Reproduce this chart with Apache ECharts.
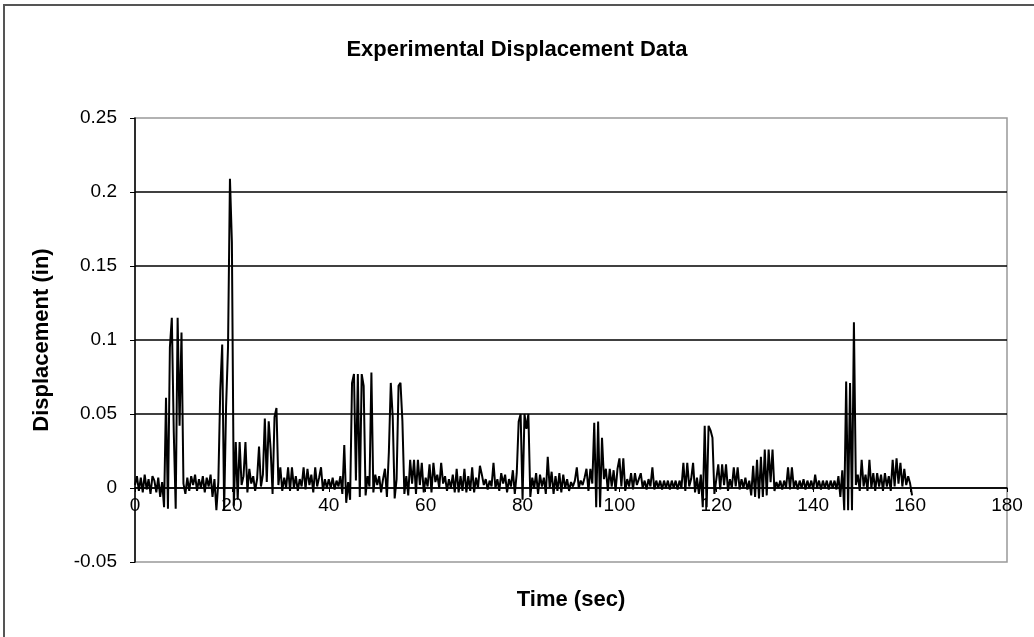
<!DOCTYPE html>
<html>
<head>
<meta charset="utf-8">
<script src="https://cdn.jsdelivr.net/npm/echarts@6/dist/echarts.min.js"></script>
<style>
html,body{margin:0;padding:0;background:#fff;}
#chart{width:1034px;height:637px;}
</style>
</head>
<body>
<div id="chart"></div>
<script>
// ---- data ----
const chartTitle = 'Experimental Displacement Data';
const xAxisTitle = 'Time (sec)';
const yAxisTitle = 'Displacement (in)';
const timeTicks = [0, 20, 40, 60, 80, 100, 120, 140, 160, 180];
const displacementTicks = [-0.05, 0, 0.05, 0.1, 0.15, 0.2, 0.25];
const sampleInterval = 0.4; // seconds between recorded samples
// displacement (in), one value every sampleInterval seconds starting at t = 0
const displacement = [
  0.002, 0.008, -0.002, 0.007, -0.003, 0.009, -0.001, 0.006, -0.004, 0.008,
  0.005, -0.003, 0.007, -0.006, 0.004, -0.013, 0.061, -0.014, 0.095, 0.115,
  0.038, -0.014, 0.115, 0.042, 0.105, 0.003, -0.004, 0.007, -0.002, 0.008,
  0.002, 0.009, -0.002, 0.006, 0.000, 0.008, -0.003, 0.007, 0.001, 0.009,
  -0.006, 0.006, -0.015, 0.004, 0.066, 0.097, -0.015, 0.055, 0.095, 0.209,
  0.166, -0.012, 0.031, -0.008, 0.031, 0.002, 0.008, 0.031, -0.003, 0.013,
  0.003, 0.008, -0.002, 0.006, 0.028, 0.001, 0.009, 0.047, 0.004, 0.045,
  0.026, -0.004, 0.048, 0.054, 0.002, 0.014, -0.002, 0.007, 0.000, 0.014,
  -0.002, 0.014, 0.000, 0.008, -0.002, 0.006, 0.001, 0.014, -0.001, 0.013,
  0.002, 0.009, -0.003, 0.014, 0.001, 0.007, 0.014, -0.002, 0.006, 0.000,
  0.006, 0.000, 0.007, -0.001, 0.005, 0.001, 0.008, -0.004, 0.029, -0.010,
  0.004, -0.008, 0.071, 0.077, 0.005, 0.077, -0.006, 0.077, 0.069, -0.005,
  0.008, 0.001, 0.078, -0.003, 0.009, 0.002, 0.008, -0.003, 0.006, 0.013,
  -0.006, 0.024, 0.071, 0.048, -0.007, 0.006, 0.069, 0.071, 0.045, -0.004,
  0.008, -0.005, 0.019, 0.003, 0.019, -0.004, 0.019, 0.002, 0.017, -0.003,
  0.007, 0.001, 0.016, -0.003, 0.017, 0.004, 0.009, 0.000, 0.017, 0.003,
  0.008, -0.002, 0.006, 0.000, 0.009, -0.003, 0.013, -0.003, 0.008, -0.002,
  0.013, -0.003, 0.008, -0.002, 0.014, -0.003, 0.007, 0.000, 0.015, 0.009,
  0.002, 0.006, -0.001, 0.005, 0.001, 0.017, 0.000, 0.006, -0.002, 0.010,
  0.003, 0.009, -0.003, 0.006, 0.001, 0.012, -0.004, 0.010, 0.045, 0.050,
  -0.008, 0.050, 0.040, 0.050, -0.006, 0.007, 0.000, 0.010, -0.004, 0.009,
  0.001, 0.007, -0.004, 0.021, 0.000, 0.011, -0.004, 0.008, -0.002, 0.010,
  -0.003, 0.009, 0.000, 0.006, -0.002, 0.004, 0.001, 0.005, 0.014, 0.000,
  0.005, 0.002, 0.007, 0.013, -0.002, 0.013, 0.003, 0.044, -0.013, 0.045,
  -0.013, 0.034, 0.006, 0.013, -0.002, 0.013, 0.001, 0.012, -0.002, 0.013,
  0.020, 0.001, 0.020, -0.002, 0.006, 0.001, 0.010, -0.001, 0.010, 0.002,
  0.006, 0.010, 0.000, 0.005, -0.001, 0.006, 0.001, 0.014, -0.001, 0.005,
  0.000, 0.005, -0.001, 0.005, 0.000, 0.005, -0.001, 0.005, 0.000, 0.005,
  -0.001, 0.005, 0.000, 0.017, -0.002, 0.017, 0.001, 0.006, 0.017, -0.003,
  0.007, -0.004, 0.009, -0.013, 0.042, -0.013, 0.042, 0.039, 0.034, -0.004,
  0.006, 0.016, -0.001, 0.016, 0.002, 0.016, -0.002, 0.006, 0.000, 0.014,
  0.001, 0.014, -0.001, 0.006, 0.000, 0.007, -0.001, 0.005, -0.005, 0.015,
  -0.006, 0.019, -0.007, 0.021, -0.006, 0.026, -0.005, 0.026, 0.004, 0.026,
  -0.002, 0.004, 0.000, 0.005, -0.001, 0.005, 0.000, 0.014, -0.001, 0.014,
  0.000, 0.005, -0.001, 0.005, 0.000, 0.006, -0.001, 0.005, 0.000, 0.005,
  -0.001, 0.009, 0.000, 0.005, -0.001, 0.005, 0.000, 0.005, -0.001, 0.005,
  0.000, 0.005, -0.001, 0.008, -0.006, 0.012, -0.015, 0.072, -0.015, 0.071,
  -0.015, 0.112, 0.002, 0.009, -0.002, 0.019, 0.001, 0.009, -0.002, 0.019,
  0.000, 0.010, -0.002, 0.010, 0.001, 0.009, -0.002, 0.010, 0.001, 0.008,
  -0.002, 0.019, 0.001, 0.020, 0.003, 0.017, 0.001, 0.013, 0.002, 0.008,
  0.003, -0.005
];

// ---- chart ----
const FONT = '"Liberation Sans", Arial, sans-serif';
const GRID = { left: 135, right: 27, top: 118, bottom: 75 };
const PLOT_H = 637 - GRID.top - GRID.bottom;
const yMin = displacementTicks[0];
const yMax = displacementTicks[displacementTicks.length - 1];
// move the time axis (line, ticks, labels) up to the zero-displacement line, as in the source chart
const xAxisOffset = -PLOT_H * (0 - yMin) / (yMax - yMin);

const seriesData = displacement.map((v, i) => [+(i * sampleInterval).toFixed(1), v]);
const chart = echarts.init(document.getElementById('chart'), null, { renderer: 'canvas' });
chart.setOption({
  animation: false,
  backgroundColor: '#ffffff',
  textStyle: { fontFamily: FONT, color: '#000' },
  title: {
    text: chartTitle,
    left: 'center',
    top: 34,
    textStyle: { fontFamily: FONT, fontSize: 22, fontWeight: 'bold', color: '#000' }
  },
  graphic: [{
    type: 'rect',
    silent: true,
    shape: { x: 4, y: 5, width: 1200, height: 800 },
    style: { fill: 'none', stroke: '#555', lineWidth: 2 }
  }],
  grid: {
    left: GRID.left, right: GRID.right, top: GRID.top, bottom: GRID.bottom,
    outerBoundsMode: 'none',
    containLabel: false,
    show: true, borderColor: '#999', borderWidth: 1.5, backgroundColor: 'transparent'
  },
  xAxis: {
    type: 'value',
    position: 'bottom',
    offset: xAxisOffset,
    min: timeTicks[0],
    max: timeTicks[timeTicks.length - 1],
    interval: timeTicks[1] - timeTicks[0],
    name: xAxisTitle,
    nameLocation: 'middle',
    nameGap: 101,
    nameTextStyle: { fontFamily: FONT, fontSize: 22, fontWeight: 'bold', color: '#000' },
    axisLine: { onZero: false, lineStyle: { color: '#000', width: 1.5 } },
    axisTick: { show: true, length: 4, lineStyle: { color: '#000' } },
    axisLabel: { color: '#000', fontFamily: FONT, fontSize: 19, margin: 8 },
    splitLine: { show: false }
  },
  yAxis: {
    type: 'value',
    min: yMin,
    max: yMax,
    interval: displacementTicks[1] - displacementTicks[0],
    name: yAxisTitle,
    nameLocation: 'middle',
    nameRotate: 90,
    nameGap: 82,
    nameTextStyle: { fontFamily: FONT, fontSize: 22, fontWeight: 'bold', color: '#000' },
    axisLine: { show: true, lineStyle: { color: '#000', width: 1.5 } },
    axisTick: { show: true, length: 5, lineStyle: { color: '#000' } },
    axisLabel: {
      color: '#000', fontFamily: FONT, fontSize: 19, margin: 18,
      formatter: v => String(parseFloat(v.toFixed(3)))
    },
    splitLine: { show: true, showMinLine: false, showMaxLine: false, lineStyle: { color: '#000', width: 1.5 } }
  },
  series: [{
    type: 'line',
    data: seriesData,
    showSymbol: false,
    symbol: 'none',
    sampling: 'none',
    lineStyle: { color: '#000', width: 2 },
    itemStyle: { color: '#000' },
    z: 3
  }]
});
</script>
</body>
</html>
